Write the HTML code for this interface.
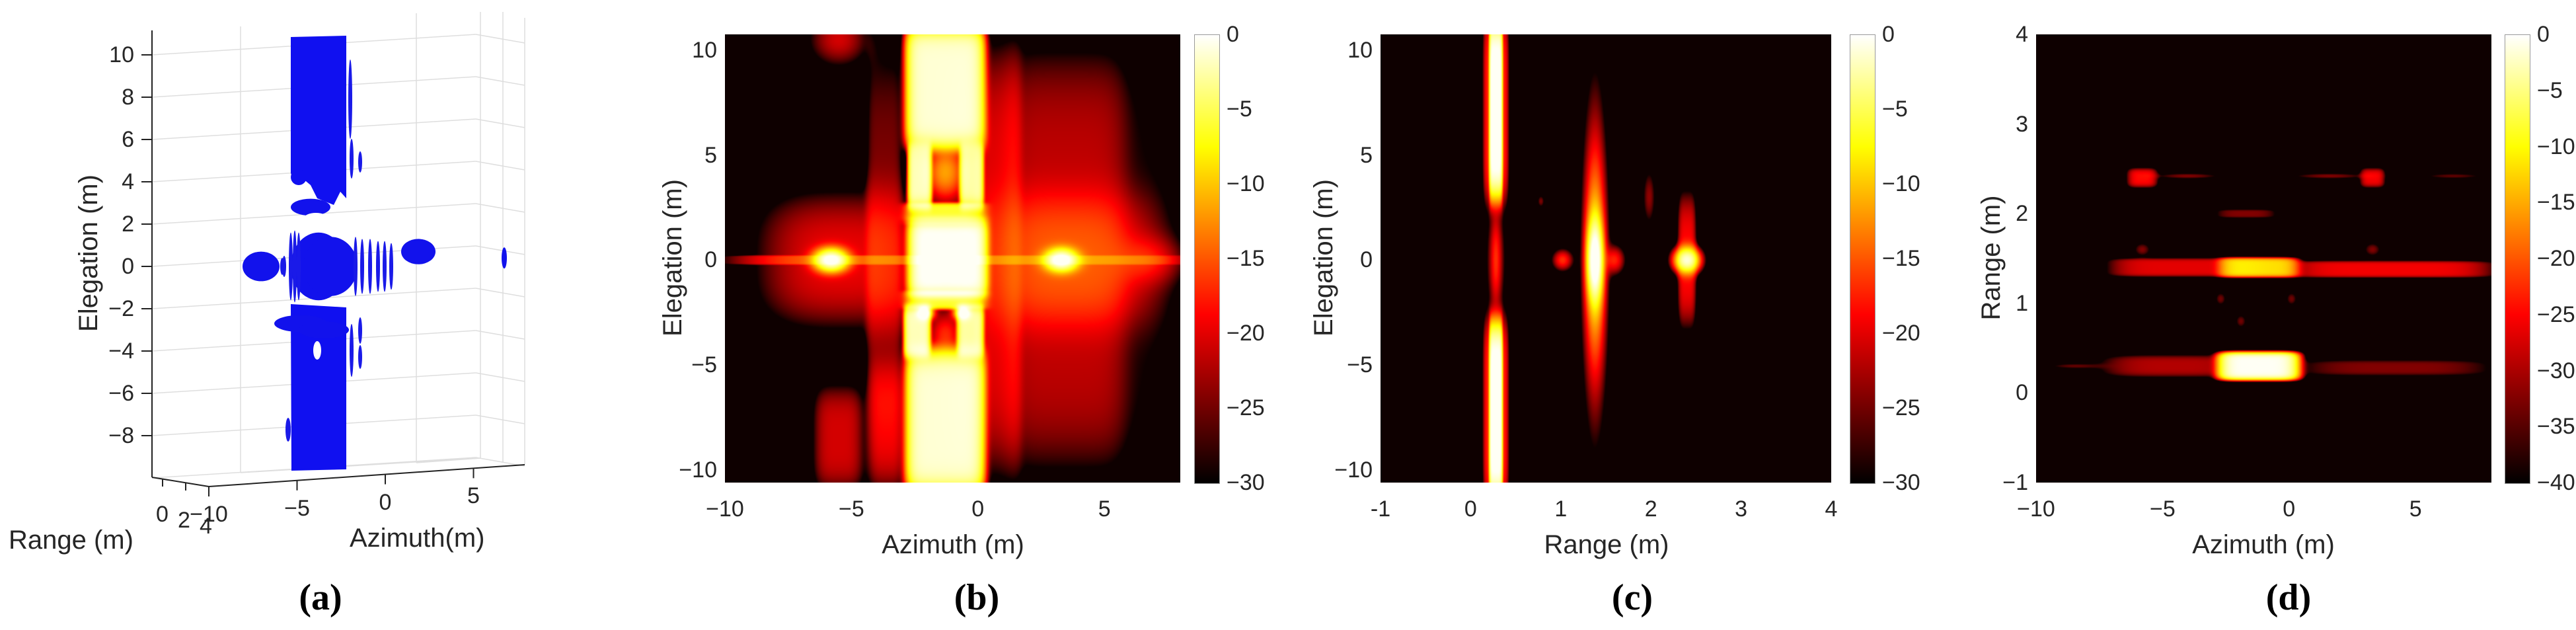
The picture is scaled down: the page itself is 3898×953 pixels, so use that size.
<!DOCTYPE html>
<html><head><meta charset="utf-8">
<style>
html,body{margin:0;padding:0;background:#fff;}
body{width:3898px;height:953px;position:relative;overflow:hidden;font-family:"Liberation Sans",sans-serif;color:#262626;}
.t{position:absolute;white-space:nowrap;font-size:34px;line-height:1;}
.tl{position:absolute;white-space:nowrap;font-size:40px;line-height:1;}
.cap{position:absolute;font-family:"Liberation Serif",serif;font-weight:bold;font-size:56px;line-height:1;color:#000;transform:translateX(-50%);}
canvas{position:absolute;}
.cb{position:absolute;border:1px solid #999;box-sizing:border-box;}
</style></head><body>

<!-- Panel (a) 3D isosurface -->
<svg style="position:absolute;left:0;top:0" width="1000" height="953">
  <g id="gridA" stroke="#dedede" stroke-width="1.5" fill="none"></g>
  <g id="blueA"></g>
  <g stroke="#222" stroke-width="2" fill="none">
    <line x1="230" y1="46" x2="230" y2="722"/>
    <line x1="230" y1="722" x2="316" y2="736"/>
    <line x1="316" y1="736" x2="794" y2="703"/>
  </g>
  <g id="ticksA" stroke="#222" stroke-width="2"></g>
</svg>
<div class="tl" style="left:13px;top:797px;">Range (m)</div>
<div class="tl" style="left:529px;top:794px;">Azimuth(m)</div>
<div class="tl" style="left:134px;top:383px;transform:translate(-50%,-50%) rotate(-90deg);">Elegation (m)</div>
<div class="cap" style="left:485px;top:876px;">(a)</div>

<!-- Panel (b) -->
<canvas id="cb_b" width="689" height="678" style="left:1097px;top:52px;"></canvas>
<canvas id="bar_b" class="cb" width="37" height="678" style="left:1807px;top:52px;"></canvas>
<div class="tl" style="left:1442px;top:804px;transform:translateX(-50%);">Azimuth (m)</div>
<div class="tl" style="left:1018px;top:390px;transform:translate(-50%,-50%) rotate(-90deg);">Elegation (m)</div>
<div class="cap" style="left:1478px;top:876px;">(b)</div>

<!-- Panel (c) -->
<canvas id="cb_c" width="682" height="678" style="left:2089px;top:52px;"></canvas>
<canvas id="bar_c" class="cb" width="37" height="678" style="left:2799px;top:52px;"></canvas>
<div class="tl" style="left:2431px;top:804px;transform:translateX(-50%);">Range (m)</div>
<div class="tl" style="left:2003px;top:390px;transform:translate(-50%,-50%) rotate(-90deg);">Elegation (m)</div>
<div class="cap" style="left:2470px;top:876px;">(c)</div>

<!-- Panel (d) -->
<canvas id="cb_d" width="689" height="678" style="left:3081px;top:52px;"></canvas>
<canvas id="bar_d" class="cb" width="37" height="678" style="left:3790px;top:52px;"></canvas>
<div class="tl" style="left:3425px;top:804px;transform:translateX(-50%);">Azimuth (m)</div>
<div class="tl" style="left:3013px;top:390px;transform:translate(-50%,-50%) rotate(-90deg);">Range (m)</div>
<div class="cap" style="left:3463px;top:876px;">(d)</div>

<div id="ticks"></div>

<script>
// ---------- Panel b data (azimuth m, elevation m) ----------
const bX  = [-1.3,-1.3,-2.3,-0.25,-1.3,-1.2,-1.3,-2.4,-0.3,-1.3,-1.3,-2.1,-0.6,-1.3,-1.3,-5.8,3.3,-5.3,3.6,-1,-5.5,-5.5,-3.6,-3.7,0.8,3.5,3.5,6.8];
const bY  = [8.2,-7.7,4.0,4.0,4.2,0.1,2.2,-3.4,-3.4,-3.6,-1.9,-2.5,-2.5,-1.9,2.3,0,0,0,0,0,10.5,-8.5,-8.0,0,0,0,0,0];
const bSX = [1.5,1.5,0.45,0.45,0.7,1.5,1.5,0.5,0.5,0.6,1.5,0.3,0.3,1.5,1.5,0.55,0.55,3.3,3.2,9,1.1,1.0,0.7,0.7,0.9,2.3,4.5,1.2];
const bSY = [2.8,3.3,1.5,1.5,1.2,1.8,0.5,1.2,1.2,1.0,0.45,0.3,0.3,0.4,0.4,0.45,0.45,3.1,3.0,0.22,1.2,2.5,3,10,10,10,10,1.0];
const bDB = [-1,-1,-2,-3,-12,0,-12,-2,-3,-18,-12,-4,-4,-14,-14,0,0,-20,-20,-21,-21,-21,-23,-25,-24,-27,-29,-23];
const bP  = [8,8,6,6,2,8,6,6,6,2,6,2,2,6,6,2,2,3,3,8,2,4,4,6,6,6,6,2];

// ---------- Panel c data (range m, elevation m) ----------
const cX  = [0.28,0.28,0.28,0.28,0.28,0.28,1.38,1.38,1.02,1.6,1.98,2.4,2.4,0.78,1.38];
const cY  = [7.2,-7.2,7.2,-7.2,0,0,0,0,0,0,3,0,0,2.8,0];
const cSX = [0.14,0.14,0.07,0.07,0.1,0.05,0.13,0.07,0.1,0.1,0.07,0.12,0.1,0.04,0.09];
const cSY = [4.4,4.4,4.0,4.0,2.6,2.0,7.8,1.6,0.45,0.6,1.3,0.5,3.1,0.3,4];
const cDB = [-17,-17,0,0,-22,-24,-19,0,-17,-18,-24,-2,-19,-25,-12];
const cP  = [6,6,6,6,2,2,2,2,2,2,2,2,4,2,2];

// ---------- Panel d data (azimuth m, range m) ----------
const dX  = [-4.5,4.2,-1.2,-4.0,4.0,-1.2,-5.8,3.3,-4.0,1.6,-1.7,-5.8,3.3,-2.7,0.1,-1.9,6.5,-8.5];
const dY  = [0.3,0.28,0.3,1.4,1.38,1.4,2.4,2.4,2.42,2.42,2.0,1.6,1.6,1.05,1.05,0.8,2.42,0.3];
const dSX = [2.8,3.8,1.45,3.0,3.9,1.45,0.55,0.45,1.2,1.4,1.2,0.3,0.3,0.2,0.2,0.2,1.2,1.0];
const dSY = [0.12,0.09,0.14,0.1,0.09,0.1,0.1,0.1,0.03,0.03,0.05,0.07,0.07,0.07,0.07,0.07,0.03,0.03];
const dDB = [-30,-33,0,-27,-26,-12,-25,-26,-33,-33,-33,-33,-33,-34,-34,-34,-35,-35];
const dP  = [4,4,6,6,6,6,4,4,2,2,4,2,2,2,2,2,2,2];

// axis ranges & ticks
const bXTicks = [-10,-5,0,5];       const bYTicks = [10,5,0,-5,-10];
const cXTicks = [-1,0,1,2,3,4];     const cYTicks = [10,5,0,-5,-10];
const dXTicks = [-10,-5,0,5];       const dYTicks = [4,3,2,1,0,-1];
const cbTicksB = [0,-5,-10,-15,-20,-25,-30];
const cbTicksD = [0,-5,-10,-15,-20,-25,-30,-35,-40];

function hot(t){t=Math.max(0,Math.min(1,t));
  return [Math.min(1,t/0.375)*255, Math.max(0,Math.min(1,(t-0.375)/0.375))*255, Math.max(0,Math.min(1,(t-0.75)/0.25))*255];}

function drawHeat(id,X,Y,SX,SY,DB,P,x0,x1,y0,y1,dbMin){
  const cv=document.getElementById(id),ctx=cv.getContext('2d');
  const W=cv.width,H=cv.height,img=ctx.createImageData(W,H);
  const amp=DB.map(d=>Math.pow(10,d/20));
  for(let j=0;j<H;j++){const y=y1-(j+0.5)/H*(y1-y0);
    for(let i=0;i<W;i++){const x=x0+(i+0.5)/W*(x1-x0);let a=0;
      for(let k=0;k<X.length;k++){const dx=Math.abs((x-X[k])/SX[k]),dy=Math.abs((y-Y[k])/SY[k]);
        if(dx>3||dy>3)continue;a+=amp[k]*Math.exp(-(Math.pow(dx,P[k])+Math.pow(dy,P[k])));}
      let db=a>0?20*Math.log10(a):dbMin;db=Math.max(dbMin,Math.min(0,db));
      const c=hot((db-dbMin)/(-dbMin)*0.97+0.02),o=(j*W+i)*4;
      img.data[o]=c[0];img.data[o+1]=c[1];img.data[o+2]=c[2];img.data[o+3]=255;}}
  ctx.putImageData(img,0,0);
}
function drawBar(id){const cv=document.getElementById(id),ctx=cv.getContext('2d');
  for(let j=0;j<cv.height;j++){const c=hot(1-j/cv.height);ctx.fillStyle=`rgb(${c[0]|0},${c[1]|0},${c[2]|0})`;ctx.fillRect(0,j,cv.width,1);}}

drawHeat('cb_b',bX,bY,bSX,bSY,bDB,bP,-10,8,-10.6,10.75,-30);
drawHeat('cb_c',cX,cY,cSX,cSY,cDB,cP,-1,4,-10.6,10.75,-30);
drawHeat('cb_d',dX,dY,dSX,dSY,dDB,dP,-10,8,-1,4,-40);
drawBar('bar_b');drawBar('bar_c');drawBar('bar_d');

const T=document.getElementById('ticks');
function lab(txt,x,y,align,name){const d=document.createElement('div');d.className='t';d.textContent=txt;
  
  
  d.style.left=x+'px';d.style.top=(y-17)+'px';
  if(align==='c')d.style.transform='translateX(-50%)';else if(align==='r')d.style.transform='translateX(-100%)';
  T.appendChild(d);}
function fmt(v){return v<0?'\u2212'+(-v):String(v);}
function axes(left,right,top,bot,x0,x1,y0,y1,xt,yt,fmtX,tag){
  xt.forEach(v=>lab(fmtX(v),left+(v-x0)/(x1-x0)*(right-left),770,'c','x-tick-'+tag));
  yt.forEach(v=>lab(fmt(v),left-12,bot-(v-y0)/(y1-y0)*(bot-top),'r','y-tick-'+tag));}
axes(1097,1786,52,730,-10,8,-10.6,10.75,bXTicks,bYTicks,fmt,'b');
axes(2089,2771,52,730,-1,4,-10.6,10.75,cXTicks,cYTicks,v=>String(v),'c');
axes(3081,3770,52,730,-10,8,-1,4,dXTicks,dYTicks,fmt,'d');
function cbar(x,top,bot,ticks,mn,tag){ticks.forEach(v=>lab(fmt(v),x,top+(v/mn)*(bot-top),'l','colorbar-tick-'+tag));}
cbar(1856,52,730,cbTicksB,-30,'b');cbar(2848,52,730,cbTicksB,-30,'c');cbar(3839,52,730,cbTicksD,-40,'d');

// ---------- Panel a (3D) ----------
const aElev=[10,8,6,4,2,0,-2,-4,-6,-8];
const aAz=[-10,-5,0,5];
const aRange=[0,2,4];
const NS='http://www.w3.org/2000/svg';
const gA=document.getElementById('gridA');
function ln(g,x1,y1,x2,y2){const l=document.createElementNS(NS,'line');l.setAttribute('x1',x1);l.setAttribute('y1',y1);l.setAttribute('x2',x2);l.setAttribute('y2',y2);g.appendChild(l);return l;}
const ey=e=>403-32*e;
[10,8,6,4,2,0,-2,-4,-6,-8,-10].forEach(e=>{const y=ey(e);ln(gA,230,y,720,y-31);ln(gA,720,y-31,794,y-18);});
[[364,40,715],[630,20,700],[727,18,693],[761,18,699],[794,27,703]].forEach(v=>ln(gA,v[0],v[1],v[0],v[2]));
ln(gA,364,715,727,693);ln(gA,630,700,727,693);
const tA=document.getElementById('ticksA');
aElev.forEach(e=>{ln(tA,214,ey(e),230,ey(e));
  lab(fmt(e),203,ey(e),'r','elevation-tick-a');});
aRange.forEach((r,i)=>{const x=246+i*35,y=724+i*6;ln(tA,x,y,x,y+12);lab(String(r),236+i*33,778+i*9,'l','range-tick-a');});
aAz.forEach(a=>{const xx=316+(a+10)*26.7;const y=736-(xx-316)*33/478;ln(tA,xx,y,xx,y+15);lab(fmt(a),xx,y+42,'c','azimuth-tick-a');});

// blue isosurface pieces (x px, y elev)
const blobCX=[482,500,395,633,763,455,470,490];
const blobCY=[0,0,0,0.7,0.4,-2.7,2.8,-3];
const blobRX=[42,41,28,26,4,40,30,38];
const blobRY=[1.6,1.4,0.7,0.6,0.5,0.4,0.4,0.4];
const fringeX=[440,446,452,538,548,560,572,582,592,430,427];
const fringeH=[1.6,1.7,1.6,1.4,1.3,1.3,1.2,1.2,1.1,0.5,0.4];
const gB=document.getElementById('blueA');
function el(cx,cy,rx,ry,fill){const e=document.createElementNS(NS,'ellipse');e.setAttribute('cx',cx);e.setAttribute('cy',cy);e.setAttribute('rx',rx);e.setAttribute('ry',ry);e.setAttribute('fill',fill);gB.appendChild(e);}
const col=document.createElementNS(NS,'path');
col.setAttribute('d','M440 56 L524 54 L524 300 L515 290 L505 310 L480 300 L470 280 L458 270 L455 278 L446 276 L440 262 Z M440 460 L524 465 L524 710 L441 712 Z');
col.setAttribute('fill','#1010f0');gB.appendChild(col);
el(452,268,12,12,'#1010f0');
for(let k=0;k<blobCX.length;k++){el(blobCX[k],ey(blobCY[k]),blobRX[k],blobRY[k]*32,'#1212ec');}
for(let k=0;k<fringeX.length;k++){el(fringeX[k],ey(0),3,fringeH[k]*32,'#1a1ae8');}
el(530,150,3,60,'#1a1ae8');el(532,240,3,30,'#1a1ae8');el(545,245,3,16,'#1a1ae8');el(532,530,3,40,'#1a1ae8');el(545,500,3,20,'#1a1ae8');el(545,540,3,18,'#1a1ae8');el(436,650,4,18,'#1a1ae8');
el(478,330,18,8,'#fff');el(480,530,6,14,'#fff');
</script>
</body></html>
